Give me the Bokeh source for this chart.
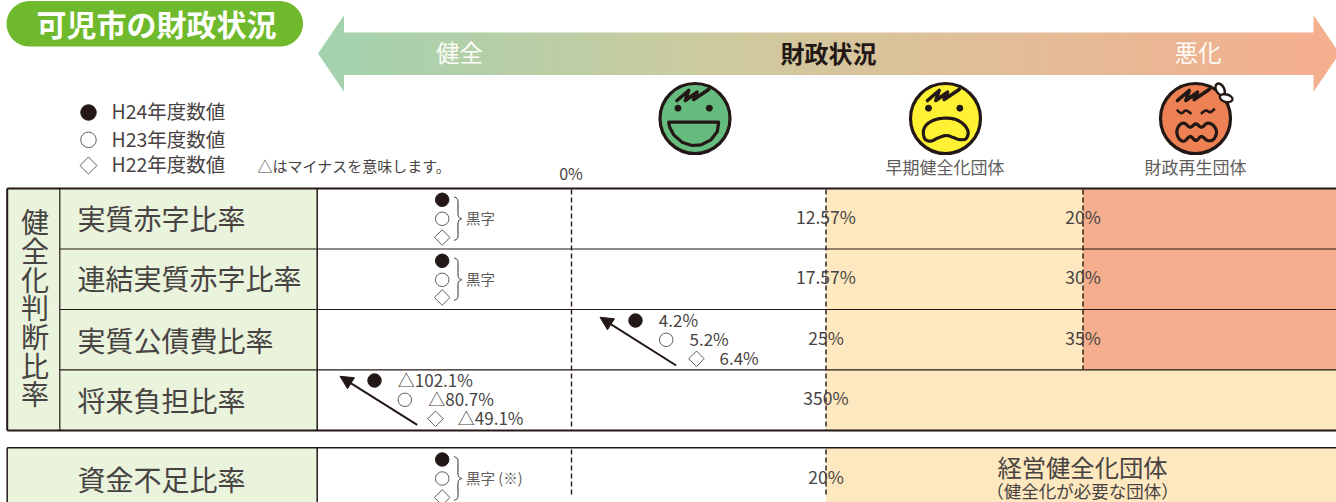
import math
from bokeh.embed import file_html
from bokeh.resources import INLINE
from bokeh.plotting import figure
from bokeh.models import Range1d, Arrow, NormalHead
from bokeh.core.properties import value

# ---------- data ----------
ratio_names = ["実質赤字比率", "連結実質赤字比率", "実質公債費比率", "将来負担比率", "資金不足比率"]
early_limits = [12.57, 17.57, 25, 350, 20]
rebuild_limits = [20, 30, 35, None, None]
h24_values = [None, None, 4.2, -102.1, None]
h23_values = [None, None, 5.2, -80.7, None]
h22_values = [None, None, 6.4, -49.1, None]
surplus_notes = ["黒字", "黒字", None, None, "黒字 (※)"]
group_label = "健全化判断比率"
legend_labels = ["H24年度数値", "H23年度数値", "H22年度数値"]

# ---------- layout ----------
INK = "#231815"; TXT = "#474343"; GREY = "#5f5c5c"
GREEN = "#eaf3db"; CREAM = "#fee8bf"; SALMON = "#f4ae8e"
FONT = value("Noto Sans CJK JP")
W, H = 1336, 502
p = figure(width=W, height=H, x_range=Range1d(0, W), y_range=Range1d(H, 0),
           output_backend="svg", toolbar_location=None, min_border=0, outline_line_color=None)
p.axis.visible = False
p.grid.visible = False

def T(x, y, s, size, color=TXT, align="left", style="normal", **kw):
    p.text([x], [y - 0.08 * size], text=[s], text_font=FONT, text_font_size=f"{size}px", text_color=color,
           text_align=align, text_baseline="middle", text_font_style=style, **kw)

def smooth(pts, closed=False, n=8):
    out = []
    m = len(pts)
    rng = range(m) if closed else range(m - 1)
    for i in rng:
        if closed:
            p0, p1, p2, p3 = pts[i - 1], pts[i], pts[(i + 1) % m], pts[(i + 2) % m]
        else:
            p0, p1, p2, p3 = pts[max(i - 1, 0)], pts[i], pts[i + 1], pts[min(i + 2, m - 1)]
        for k in range(n):
            t = k / n
            f = lambda a, b, c, d: 0.5 * (2*b + (c-a)*t + (2*a-5*b+4*c-d)*t*t + (3*b-a-3*c+d)*t*t*t)
            out.append((f(p0[0], p1[0], p2[0], p3[0]), f(p0[1], p1[1], p2[1], p3[1])))
    if not closed:
        out.append(pts[-1])
    return out

# title pill
pill = ([(29 + 23 * math.cos(a / 20 * math.pi + math.pi / 2), 23.3 + 22.7 * math.sin(a / 20 * math.pi + math.pi / 2)) for a in range(21)]
        + [(279.5 + 23 * math.cos(a / 20 * math.pi - math.pi / 2), 23.3 + 22.7 * math.sin(a / 20 * math.pi - math.pi / 2)) for a in range(21)])
p.patch(*zip(*pill), fill_color="#6fba2c", line_color=None)
T(156, 25, "可児市の財政状況", 30, "white", "center", "bold")

# gradient arrow
stops = [(343, (165, 210, 174)), (700, (205, 203, 160)), (1000, (226, 190, 152)), (1313, (244, 175, 143))]
def mix(x):
    for (a, ca), (b, cb) in zip(stops, stops[1:]):
        if x <= b:
            t = (x - a) / (b - a)
            return "#%02x%02x%02x" % tuple(int(u + (v - u) * t) for u, v in zip(ca, cb))
    return "#f4af8f"
xs = list(range(343, 1313, 6))
p.quad(left=xs, right=[x + 6.5 for x in xs], top=[32] * len(xs), bottom=[74.5] * len(xs),
       fill_color=[mix(x) for x in xs], line_color=None)
p.patch([317.5, 343.5, 343.5], [53, 14.7, 91.3], fill_color="#a5d2ae", line_color=None)
p.patch([1313, 1313, 1339], [14.7, 91.3, 53], fill_color="#f4af8f", line_color=None)
T(459, 53.5, "健全", 23.5, "#fbfdf6", "center")
T(828, 53.5, "財政状況", 24, INK, "center", "bold")
T(1197.5, 53.5, "悪化", 23.5, "#fffaf5", "center")

# legend
leg_y = [112, 139.3, 165]
p.scatter([88], [leg_y[0]], marker="circle", size=15.5, fill_color=INK, line_color=INK)
p.scatter([88], [leg_y[1]], marker="circle", size=15.5, fill_color="white", line_color=GREY, line_width=1)
p.scatter([88], [leg_y[2]], marker="square", angle=math.pi / 4, size=12, fill_color="white", line_color=GREY, line_width=1)
for y, s in zip(leg_y, legend_labels):
    T(111, y, s, 19.5, TXT)
T(257, 166, "△はマイナスを意味します。", 15, TXT)
T(570.5, 173.5, "0%", 16, TXT, "center")

# faces
def face(cx, color, mouth=None, kind=0):
    cy = 118
    tr = lambda pts: [(cx + (a - 134) / 3, cy + (b - 129) / 3) for a, b in pts]
    p.ellipse([cx], [cy], width=70, height=70, fill_color=color, line_color=INK, line_width=3.2)
    hair = tr([(80, 75), (115, 45), (105, 75), (140, 50), (130, 72), (175, 42)])
    p.line(*zip(*hair), line_color=INK, line_width=3.6, line_join="round", line_cap="round")
    if kind < 2:
        p.scatter(*zip(*tr([(83, 98), (177, 98)])), marker="circle", size=6, fill_color=INK, line_color=INK)
    else:
        for eye in ([(78, 103), (92, 113), (105, 105), (122, 115)], [(150, 115), (165, 105), (178, 110), (192, 100)]):
            p.line(*zip(*smooth(tr(eye))), line_color=INK, line_width=2.6)
    if kind == 0:
        pts = tr([(55, 140), (205, 140), (201, 168), (182, 193), (152, 208), (125, 210), (95, 200), (70, 178), (58, 155)])
        p.patch(*zip(*pts), fill_color=color, line_color=INK, line_width=3.2, line_join="round")
    else:
        p.patch(*zip(*smooth(tr(mouth), closed=True)), fill_color=color, line_color=INK, line_width=3.2)
    if kind == 2:
        ax, ay = tr([(208, 42)])[0]
        bx, by = tr([(226, 68)])[0]
        p.ellipse([ax], [ay], width=8, height=13, angle=0.5, fill_color="white", line_color=INK, line_width=2.4)
        p.ellipse([bx], [by], width=13, height=7.5, angle=-0.25, fill_color="white", line_color=INK, line_width=2.4)

face(694.5, "#66bc7f")
face(945, "#fff133", [(68, 165), (80, 145), (105, 132), (135, 128), (165, 132), (190, 148), (202, 170), (195, 190),
                      (175, 192), (155, 185), (135, 180), (110, 188), (90, 197), (72, 190)], 1)
face(1195, "#ee8153", [(78, 170), (85, 150), (100, 143), (118, 155), (135, 145), (152, 155), (170, 143), (188, 150),
                       (197, 170), (188, 192), (170, 195), (152, 183), (135, 195), (118, 183), (100, 197), (85, 190)], 2)
T(944.5, 167, "早期健全化団体", 17, GREY, "center")
T(1195, 167, "財政再生団体", 17, GREY, "center")

# table
row_top = [188, 248.5, 309, 369.3, 447.3]
row_bot = [248.5, 309, 369.3, 430, 503]
X_LEFT, X_SPLIT, X_NAME, X_ZERO, X_EARLY, X_REBUILD = 6.7, 59.3, 316.7, 571, 825.5, 1082.5
for t, b, rb in zip(row_top, row_bot, rebuild_limits):
    p.quad(left=[X_LEFT], right=[X_NAME], top=[t], bottom=[b], fill_color=GREEN, line_color=None)
    p.quad(left=[X_EARLY], right=[W], top=[t], bottom=[b], fill_color=CREAM, line_color=None)
    if rb is not None:
        p.quad(left=[X_REBUILD], right=[W], top=[t], bottom=[b], fill_color=SALMON, line_color=None)

for y in row_top[1:4]:
    p.line([X_SPLIT, W], [y, y], line_color=INK, line_width=1.2)
for y in (row_top[0], 430, row_top[4]):
    p.line([X_LEFT, W], [y, y], line_color=INK, line_width=2.2 if y != row_top[4] else 1.6)
p.line([X_LEFT, X_LEFT], [188, 430], line_color=INK, line_width=2)
p.line([X_LEFT, X_LEFT], [447.3, 503], line_color=INK, line_width=1.5)
p.line([X_SPLIT, X_SPLIT], [188, 430], line_color=INK, line_width=1.2)
p.line([X_NAME, X_NAME], [188, 430], line_color=INK, line_width=1.5)
p.line([X_NAME, X_NAME], [447.3, 503], line_color=INK, line_width=1.5)
for x, a, b in ((X_ZERO, 189, 430), (X_EARLY, 189, 430), (X_REBUILD, 189, 369)):
    p.line([x, x], [a, b], line_color=INK, line_width=1.4, line_dash="5 3")
for x in (X_ZERO, X_EARLY):
    p.line([x, x], [449, 497], line_color=INK, line_width=1.4, line_dash="5 3")

# row titles
name_y = [220, 280, 341.5, 401.5, 481]
for y, s in zip(name_y, ratio_names):
    T(77, y, s, 28, TXT)
for i, ch in enumerate(group_label):
    T(34.5, 223 + i * 28.7, ch, 28, TXT, "center")

# thresholds
lim_y = [217.5, 277, 338.5, 398, 477.5]
fmt = lambda v: f"{v:g}%"
for y, e, r in zip(lim_y, early_limits, rebuild_limits):
    T(X_EARLY, y, fmt(e), 17.5, TXT, "center")
    if r is not None:
        T(X_REBUILD, y, fmt(r), 17.5, TXT, "center")

# surplus markers with brace
def marks(x, ys, xs=None):
    xs = xs or [x] * 3
    p.scatter([xs[0]], [ys[0]], marker="circle", size=13.5, fill_color=INK, line_color=INK)
    p.scatter([xs[1]], [ys[1]], marker="circle", size=13.5, fill_color="white", line_color=GREY, line_width=1)
    p.scatter([xs[2]], [ys[2]], marker="square", angle=math.pi / 4, size=11, fill_color="white", line_color=GREY, line_width=1)

surplus_y = {0: [199.3, 218.3, 237], 1: [260.3, 279.3, 297], 4: [459, 478, 497]}
for i, ys in surplus_y.items():
    marks(441.7, ys)
    mid = ys[1]
    brace = smooth([(453.5, ys[0] - 3), (456.8, ys[0] - 1), (457.5, ys[0] + 3), (457.5, mid - 5), (458.5, mid - 1.5), (461, mid),
                    (458.5, mid + 1.5), (457.5, mid + 5), (457.5, ys[2] - 3), (456.8, ys[2] + 1), (453.5, ys[2] + 3)])
    p.line(*zip(*brace), line_color=INK, line_width=1)
    T(465.5, mid + 0.3, surplus_notes[i], 14.5, GREY)

# measured values
fmtv = lambda v: ("△" if v < 0 else "") + f"{abs(v):.1f}%"
value_layout = {2: dict(mx=[635, 665.7, 696], my=[320, 339.3, 358.3], lx=[658.3, 689, 719],
                        arrow=(675.7, 365, 599.5, 316.8)),
                3: dict(mx=[374, 404.3, 435], my=[380, 399.3, 418.3], lx=[397.3, 427.7, 457.3],
                        arrow=(416.7, 424.3, 339.5, 375.8))}
for i, L in value_layout.items():
    marks(None, L["my"], L["mx"])
    for lx, y, v in zip(L["lx"], L["my"], (h24_values[i], h23_values[i], h22_values[i])):
        T(lx, y, fmtv(v), 17, TXT)
    a = L["arrow"]
    p.add_layout(Arrow(end=NormalHead(size=13, fill_color=INK, line_color=INK, line_width=1),
                       x_start=a[0], y_start=a[1], x_end=a[2], y_end=a[3], line_color=INK, line_width=2))

T(1082, 468, "経営健全化団体", 24.3, TXT, "center")
T(1082, 491, "（健全化が必要な団体）", 17.5, TXT, "center")

open("out.html", "w").write(file_html(p, INLINE))
